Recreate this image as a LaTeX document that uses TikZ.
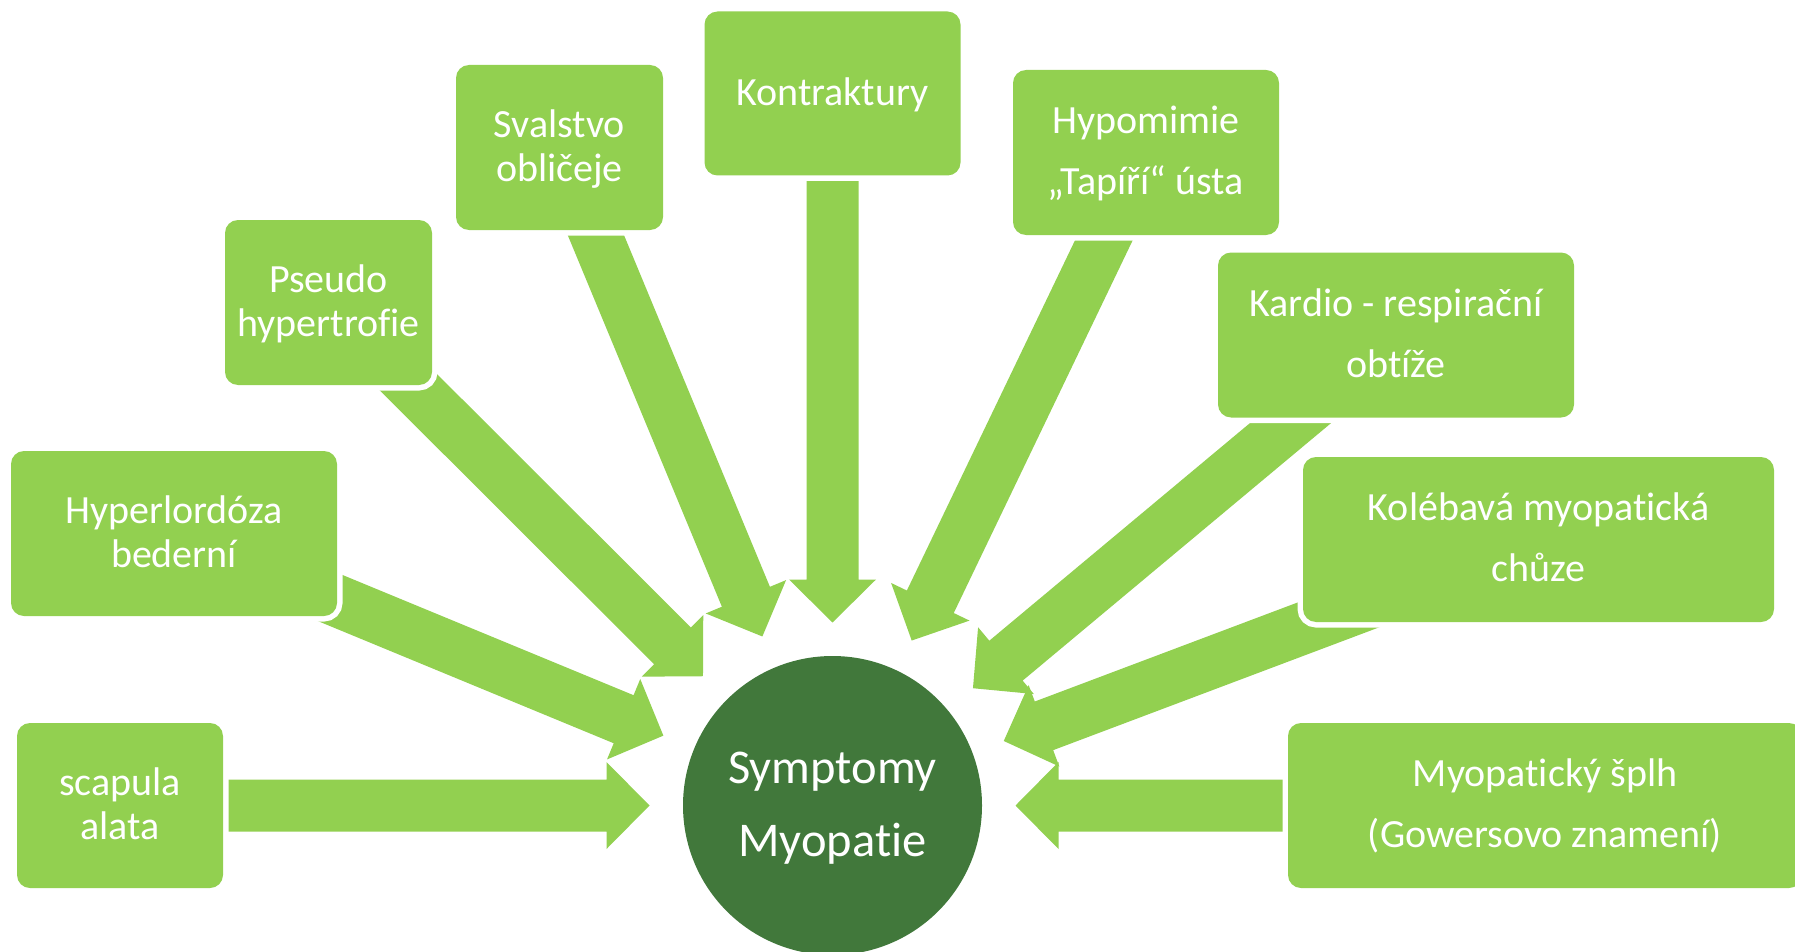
\documentclass[tikz,border=0pt]{standalone}
\usepackage{fontspec}
\setmainfont{Carlito}[Ligatures=NoCommon]
\usetikzlibrary{calc,backgrounds}
\definecolor{lgreen}{HTML}{92D050}
\definecolor{dgreen}{HTML}{41783B}
\newcommand\tp{\rule{0pt}{0.8em}}
\newcommand\bt{\rule[-0.21em]{0pt}{0pt}}
\newcommand\radarrow[1]{%
  \coordinate (#1-t) at ($(C.center)!183pt!(#1.center)$);
  \coordinate (#1-h) at ($(#1-t)!43pt!(#1.center)$);
  \fill[arr] ($(#1.center)!26pt!-90:(C.center)$)
    -- ($(#1-h)!26pt!-90:(#1-t)$) -- ($(#1-h)!43.5pt!-90:(#1-t)$) -- (#1-t)
    -- ($(#1-h)!43.5pt!90:(#1-t)$) -- ($(#1-h)!26pt!90:(#1-t)$)
    -- ($(#1.center)!26pt!90:(C.center)$) -- cycle;
}
\begin{document}
\begin{tikzpicture}[x=1pt,y=-1pt,
  box/.style={rectangle, rounded corners=13pt, fill=lgreen,
    preaction={draw=white, line width=11pt}, text=white, align=center,
    inner sep=0pt, minimum height=165pt, font=\fontsize{40}{44}\selectfont},
  boxr/.style={box, font=\fontsize{40}{61}\selectfont},
  hub/.style={circle, fill=dgreen, minimum size=299pt, inner sep=0pt,
    text=white, align=center, font=\fontsize{48.5}{73}\selectfont},
  arr/.style={fill=lgreen}]
\useasboundingbox (0,0) rectangle (1795,952);

\node[hub] (C) at (832.5,805.5) {\tp Symptomy\\Myopatie\bt};

\node[box, minimum width=206pt] (scap) at (120,805.5) {\tp scapula\\alata\bt};
\node[box, minimum width=326pt] (hyper) at (174,533.5) {\tp Hyperlordóza\\bederní\bt};
\node[box, minimum width=207pt] (pseudo) at (328.5,302.5) {\tp Pseudo\\hypertrofie\bt};
\node[box, minimum width=207pt] (sval) at (559.5,147.5) {\tp Svalstvo\\obličeje\bt};
\node[box, minimum width=256pt, minimum height=164pt] (kontr) at (832.5,93.5) {\tp Kontraktury\bt};
\node[boxr, minimum width=266pt] (hypo) at (1146,152.5) {\tp Hypomimie\\„Tapíří“ ústa\bt};
\node[boxr, minimum width=356pt] (kardio) at (1396,335) {\tp Kardio - respirační\\obtíže\bt};
\node[boxr, minimum width=471pt] (koleb) at (1538.5,539.5) {\tp Kolébavá myopatická\\chůze\bt};
\node[boxr, minimum width=514pt] (splh) at (1545,805.5) {\tp Myopatický šplh\\(Gowersovo znamení)\bt};

\begin{scope}[on background layer]
  \radarrow{scap}
  \radarrow{hyper}
  \radarrow{pseudo}
  \radarrow{sval}
  \radarrow{kontr}
  \radarrow{hypo}
  \radarrow{kardio}
  \radarrow{koleb}
  \radarrow{splh}
\end{scope}
\end{tikzpicture}
\end{document}
